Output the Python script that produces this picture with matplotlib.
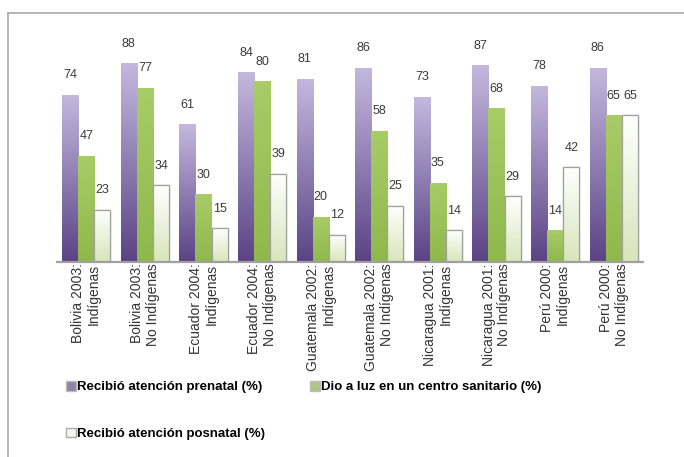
import matplotlib
matplotlib.use("Agg")
import matplotlib.pyplot as plt
import numpy as np
from matplotlib.colors import LinearSegmentedColormap
from matplotlib.lines import Line2D
from matplotlib.patches import Patch

categories = ["Bolivia 2003:\nIndígenas", "Bolivia 2003:\nNo Indígenas",
              "Ecuador 2004:\nIndígenas", "Ecuador 2004:\nNo Indígenas",
              "Guatemala 2002:\nIndígenas", "Guatemala 2002:\nNo Indígenas",
              "Nicaragua 2001:\nIndígenas", "Nicaragua 2001:\nNo Indígenas",
              "Perú 2000:\nIndígenas", "Perú 2000:\nNo Indígenas"]
prenatal = [74, 88, 61, 84, 81, 86, 73, 87, 78, 86]
parto = [47, 77, 30, 80, 20, 58, 35, 68, 14, 65]
posnatal = [23, 34, 15, 39, 12, 25, 14, 29, 42, 65]
series_names = ["Recibió atención prenatal (%)",
                "Dio a luz en un centro sanitario (%)",
                "Recibió atención posnatal (%)"]

W, H = 684, 457
fig = plt.figure(figsize=(W / 100, H / 100), dpi=100)
ax = fig.add_axes([57 / W, 1 - 262 / H, 586 / W, 226 / H])

x = np.arange(len(categories))
bw = 0.275
grads = [("#c4b8de", "#5a4384", "none"),
         ("#a8cc68", "#8fb84c", "none"),
         ("#ffffff", "#d8e5ba", "#a0a0a0")]
data = [prenatal, parto, posnatal]
for k, (vals, (ctop, cbot, ec)) in enumerate(zip(data, grads)):
    bars = ax.bar(x + (k - 1) * bw, vals, bw, color=cbot, edgecolor=ec,
                  linewidth=0.9, zorder=2)
    cmap = LinearSegmentedColormap.from_list("g%d" % k, [cbot, ctop])
    grad = np.linspace(0, 1, 256).reshape(-1, 1)
    for b in bars:
        bx, by = b.get_x(), b.get_y()
        im = ax.imshow(grad, extent=[bx, bx + b.get_width(), by, by + b.get_height()],
                       origin="lower", aspect="auto", cmap=cmap, zorder=2.5)
        im.set_clip_path(b)
    if ec != "none":
        for b in bars:
            r = plt.Rectangle((b.get_x(), 0), b.get_width(), b.get_height(),
                              fill=False, edgecolor=ec, linewidth=0.9, zorder=3)
            ax.add_patch(r)
    for xi, v in zip(x + (k - 1) * bw, vals):
        ax.text(xi, v + 6, str(v), ha="center", va="bottom", fontsize=9,
                color="#3a3a3a", family=["Liberation Sans", "DejaVu Sans"])

ax.set_xlim(-0.5, 9.5)
ax.set_ylim(0, 100)
for s in ["top", "right", "left"]:
    ax.spines[s].set_visible(False)
ax.spines["bottom"].set_color("#a0a0a0")
ax.spines["bottom"].set_linewidth(1.6)
ax.set_yticks([])
ax.set_xticks(x)
ax.set_xticklabels(categories, rotation=90, ha="center", va="top",
                   multialignment="right", fontsize=10, color="#333333",
                   linespacing=1.15, family=["Liberation Sans", "DejaVu Sans"])
ax.tick_params(axis="x", length=0, pad=1)

# frame
fig.add_artist(Line2D([8 / W, 1], [1 - 13 / H, 1 - 13 / H], color="#b0b0b0", lw=1.3))
fig.add_artist(Line2D([8 / W, 8 / W], [1 - 13 / H, 0], color="#b0b0b0", lw=1.3))

handles = [Patch(facecolor="#8c85a8", edgecolor="#bbbbbb"),
           Patch(facecolor="#f4f6ee", edgecolor="#aaaaaa"),
           Patch(facecolor="#afc784", edgecolor="#bbbbbb")]
labels = [series_names[0], series_names[2], series_names[1]]
leg = fig.legend(handles, labels, loc="upper left",
                 bbox_to_anchor=(54 / W, 1 - 369 / H), ncol=2, frameon=False,
                 handlelength=0.75, handleheight=0.75, handletextpad=0.1,
                 columnspacing=3.4, labelspacing=2.6,
                 prop={"family": ["Liberation Sans", "DejaVu Sans"],
                       "weight": "bold", "size": 9.5})

fig.savefig("out.png", dpi=100)
